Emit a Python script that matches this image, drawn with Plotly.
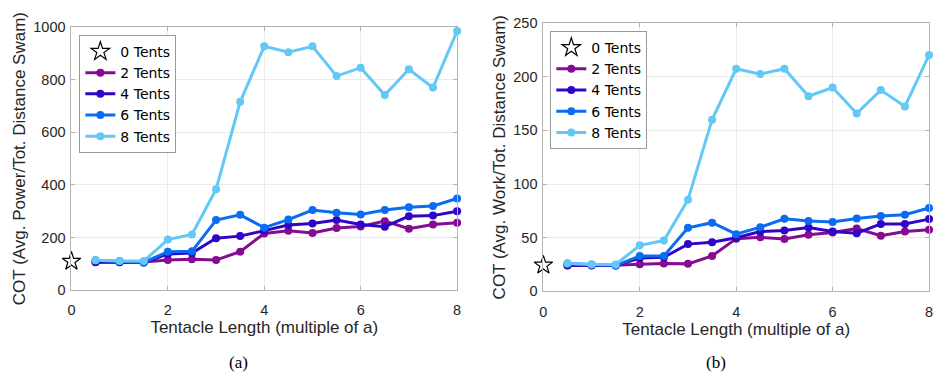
import plotly.graph_objects as go

W, H = 938, 383

lengths = [0.5, 1, 1.5, 2, 2.5, 3, 3.5, 4, 4.5, 5, 5.5, 6, 6.5, 7, 7.5, 8]
series_names = ["2 Tents", "4 Tents", "6 Tents", "8 Tents"]
series_colors = ["#850C92", "#3005C8", "#0A6CF2", "#62C8F6"]

# (a) COT based on average power
power_0 = 109
power_2 = [106, 106, 107, 114, 117, 114, 146, 215, 225, 217, 236, 242, 262, 233, 249, 256]
power_4 = [107, 107, 105, 137, 141, 197, 205, 226, 247, 253, 266, 249, 241, 281, 283, 300]
power_6 = [113, 110, 105, 146, 147, 266, 286, 237, 268, 304, 294, 287, 304, 315, 320, 348]
power_8 = [113, 110, 110, 192, 211, 383, 716, 927, 905, 927, 814, 846, 742, 840, 770, 985]

# (b) COT based on average work
work_0 = 24.4
work_2 = [24.1, 24.1, 24.4, 25.3, 25.9, 25.6, 33.0, 49.1, 50.3, 48.8, 52.7, 54.8, 58.6, 51.8, 55.7, 57.4]
work_4 = [24.4, 24.4, 24.1, 31.0, 31.8, 44.0, 45.8, 50.0, 55.7, 56.8, 59.5, 55.7, 54.2, 62.8, 62.8, 67.3]
work_6 = [25.9, 25.0, 24.0, 33.0, 33.0, 59.2, 64.0, 53.3, 59.8, 67.6, 65.5, 64.6, 67.9, 70.2, 71.4, 77.7]
work_8 = [25.9, 25.0, 25.0, 42.9, 47.3, 85.4, 160.0, 207.4, 202.4, 207.4, 181.8, 189.9, 165.8, 187.5, 172.3, 220.2]

x_ticks = [0, 2, 4, 6, 8]
y_ticks_a = [0, 200, 400, 600, 800, 1000]
y_ticks_b = [0, 50, 100, 150, 200, 250]

x_title = "Tentacle Length (multiple of a)"
y_title_a = "COT (Avg. Power/Tot. Distance Swam)"
y_title_b = "COT (Avg. Work/Tot. Distance Swam)"

FONT = "Liberation Sans, Arial, sans-serif"
LEGFONT = "DejaVu Sans, sans-serif"
TXT = "#262626"

fig = go.Figure()

def add_panel(xa, ya, leg, zero_val, vals):
    fig.add_trace(go.Scatter(
        x=[0], y=[zero_val], mode="markers", name="0 Tents",
        marker=dict(symbol="star-open", size=14, color="black", line=dict(width=1.2, color="black")),
        xaxis=xa, yaxis=ya, legend=leg, cliponaxis=False))
    for name, col, v in zip(series_names, series_colors, vals):
        fig.add_trace(go.Scatter(
            x=lengths, y=v, mode="lines+markers", name=name,
            line=dict(color=col, width=3), marker=dict(color=col, size=8),
            xaxis=xa, yaxis=ya, legend=leg, cliponaxis=False))

add_panel("x", "y", "legend", power_0, [power_2, power_4, power_6, power_8])
add_panel("x2", "y2", "legend2", work_0, [work_2, work_4, work_6, work_8])

def xaxis_cfg(dom, anchor):
    return dict(domain=dom, anchor=anchor, range=[0, 8], tickvals=x_ticks,
                showgrid=True, gridcolor="#ebebeb", gridwidth=1, zeroline=False,
                showline=True, linecolor="#b3b3b3", linewidth=1, mirror="ticks",
                ticks="inside", ticklen=4, tickcolor="#b3b3b3",
                ticklabelstandoff=7,
                tickfont=dict(family=FONT, size=14.5, color=TXT),
                title=dict(text=x_title, font=dict(family=FONT, size=17, color=TXT), standoff=0))

def yaxis_cfg(dom, anchor, rng, tv, title):
    return dict(domain=dom, anchor=anchor, range=rng, tickvals=tv,
                showgrid=True, gridcolor="#ebebeb", gridwidth=1, zeroline=False,
                showline=True, linecolor="#b3b3b3", linewidth=1, mirror="ticks",
                ticks="inside", ticklen=4, tickcolor="#b3b3b3",
                ticklabelstandoff=2,
                tickfont=dict(family=FONT, size=14.5, color=TXT),
                title=dict(text=title, font=dict(family=FONT, size=17, color=TXT), standoff=3))

fig.update_layout(
    width=W, height=H, margin=dict(l=0, r=0, t=0, b=0),
    paper_bgcolor="white", plot_bgcolor="white",
    xaxis=xaxis_cfg([68/W, 457/W], "y"),
    yaxis=yaxis_cfg([(H-294.3)/H, (H-20)/H], "x", [0, 1000], y_ticks_a, y_title_a),
    xaxis2=xaxis_cfg([544/W, 933/W], "y2"),
    yaxis2=yaxis_cfg([(H-295.7)/H, (H-15.7)/H], "x2", [0, 250], y_ticks_b, y_title_b),
    legend=dict(x=76/W, y=(H-28)/H, xanchor="left", yanchor="top",
                bgcolor="white", bordercolor="#999999", borderwidth=1,
                font=dict(family=LEGFONT, size=14, color="black"),
                itemwidth=30, tracegroupgap=0),
    legend2=dict(x=551/W, y=(H-24)/H, xanchor="left", yanchor="top",
                 bgcolor="white", bordercolor="#999999", borderwidth=1,
                 font=dict(family=LEGFONT, size=14, color="black"),
                 itemwidth=30, tracegroupgap=0),
    showlegend=True,
)

fig.add_annotation(text="(a)", x=237/W, y=(H-370)/H, xref="paper", yref="paper",
                   showarrow=False, xanchor="center", yanchor="middle",
                   font=dict(family="Liberation Serif, Times New Roman, serif", size=17, color="black"))
fig.add_annotation(text="(b)", x=718/W, y=(H-370)/H, xref="paper", yref="paper",
                   showarrow=False, xanchor="center", yanchor="middle",
                   font=dict(family="Liberation Serif, Times New Roman, serif", size=17, color="black"))

fig.write_html("out.html")
